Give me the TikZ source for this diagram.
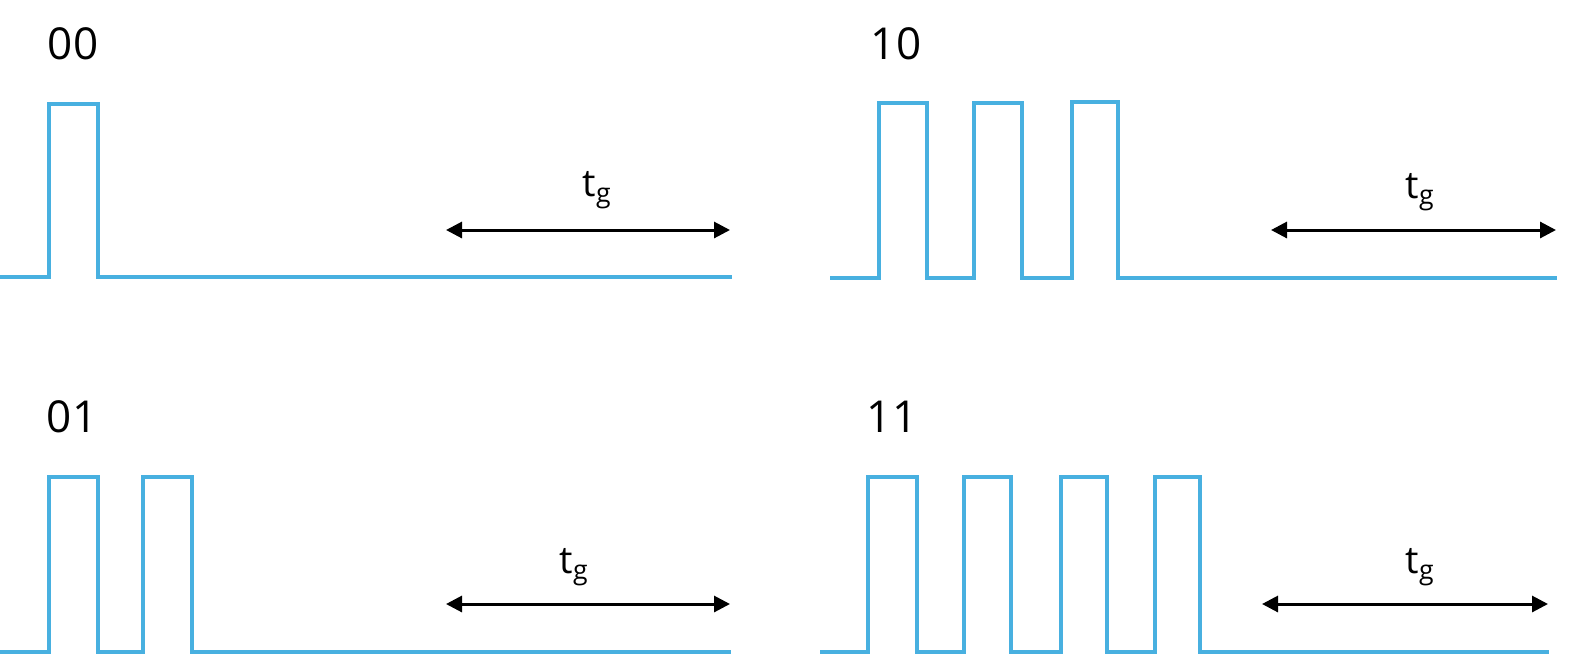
\documentclass[tikz,border=0pt]{standalone}
\usepackage{fontspec}
\setmainfont{Open Sans}
\usetikzlibrary{arrows.meta}
\definecolor{wave}{RGB}{72,176,224}
\begin{document}
\begin{tikzpicture}[x=1pt,y=-1pt,
  wavestyle/.style={draw=wave,line width=3.2pt,line join=miter},
  gaparrow/.style={draw=black,line width=3pt,{Triangle[length=16pt,width=16pt]}-{Triangle[length=16pt,width=16pt]}},
  codelabel/.style={font=\fontsize{44}{50}\selectfont,inner sep=0pt},
  tglabel/.style={font=\fontsize{38}{44}\selectfont,inner sep=0pt}]
\useasboundingbox (0,0) rectangle (1577,657);
% panel 00
\draw[wavestyle] (0,277) -- (49,277) -- (49,104) -- (98,104) -- (98,277) -- (732,277);
\node[codelabel] (l00) at (73,44) {00};
\coordinate (a00) at (446,230);
\coordinate (b00) at (730,230);
\draw[gaparrow] (a00) -- (b00);
\node[tglabel] (t00) at (597,190) {t\textsubscript{g}};
% panel 10
\draw[wavestyle] (830,278) -- (879,278) -- (879,103) -- (927,103) -- (927,278) -- (974,278) -- (974,103) -- (1022,103) -- (1022,278) -- (1072,278) -- (1072,102) -- (1118,102) -- (1118,278) -- (1557,278);
\node[codelabel] (l10) at (896,44) {10};
\coordinate (a10) at (1271,230);
\coordinate (b10) at (1556,230);
\draw[gaparrow] (a10) -- (b10);
\node[tglabel] (t10) at (1420,192) {t\textsubscript{g}};
% panel 01
\draw[wavestyle] (0,652) -- (49,652) -- (49,477) -- (98,477) -- (98,652) -- (143,652) -- (143,477) -- (192,477) -- (192,652) -- (731,652);
\node[codelabel] (l01) at (72,417) {01};
\coordinate (a01) at (446,604);
\coordinate (b01) at (730,604);
\draw[gaparrow] (a01) -- (b01);
\node[tglabel] (t01) at (574,567) {t\textsubscript{g}};
% panel 11
\draw[wavestyle] (820,652) -- (868,652) -- (868,477) -- (917,477) -- (917,652) -- (964,652) -- (964,477) -- (1011,477) -- (1011,652) -- (1061,652) -- (1061,477) -- (1107,477) -- (1107,652) -- (1155,652) -- (1155,477) -- (1200,477) -- (1200,652) -- (1549,652);
\node[codelabel] (l11) at (892,417) {11};
\coordinate (a11) at (1262,604);
\coordinate (b11) at (1548,604);
\draw[gaparrow] (a11) -- (b11);
\node[tglabel] (t11) at (1420,567) {t\textsubscript{g}};
\end{tikzpicture}
\end{document}
